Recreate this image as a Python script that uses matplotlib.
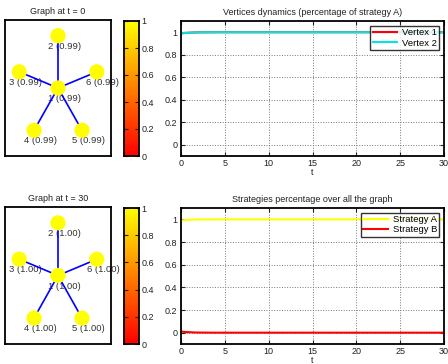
import numpy as np
import matplotlib
matplotlib.use("Agg")
import matplotlib.pyplot as plt

plt.rcParams['font.family'] = ['Liberation Sans', 'DejaVu Sans']

# ---- data ----
node_ids = [1, 2, 3, 4, 5, 6]
node_x = [0.0, 0.0, -0.951, -0.588, 0.588, 0.951]
node_y = [0.0, 1.0, 0.309, -0.809, -0.809, 0.309]
edges = [(1, 2), (1, 3), (1, 4), (1, 5), (1, 6)]
values_t0 = [0.99, 0.99, 0.99, 0.99, 0.99, 0.99]
values_t30 = [1.00, 1.00, 1.00, 1.00, 1.00, 1.00]

t = [0, 0.5, 1, 1.5, 2, 3, 4, 5, 10, 15, 20, 25, 30]
vertex1 = [0.99, 0.994, 0.996, 0.998, 0.999, 0.9995, 1.0, 1.0, 1.0, 1.0, 1.0, 1.0, 1.0]
vertex2 = [0.99, 0.994, 0.996, 0.998, 0.999, 0.9995, 1.0, 1.0, 1.0, 1.0, 1.0, 1.0, 1.0]
strategyA = [0.99, 0.994, 0.996, 0.998, 0.999, 0.9995, 1.0, 1.0, 1.0, 1.0, 1.0, 1.0, 1.0]
strategyB = [0.01, 0.006, 0.004, 0.002, 0.001, 0.0005, 0.0, 0.0, 0.0, 0.0, 0.0, 0.0, 0.0]

cbar_ticks = [0, 0.2, 0.4, 0.6, 0.8, 1]
x_ticks = [0, 5, 10, 15, 20, 25, 30]
y_ticks = [0, 0.2, 0.4, 0.6, 0.8, 1]

W, H = 448, 364
fig = plt.figure(figsize=(W / 100, H / 100), dpi=100)
cmap = plt.get_cmap('autumn')
FS = 6.5


def rect(x0, y0, x1, y1):
    return [x0 / W, (H - y1) / H, (x1 - x0) / W, (y1 - y0) / H]


def draw_graph(ax, values, title):
    ax.set_xlim(-1.3, 1.3)
    ax.set_ylim(-1.3, 1.3)
    ax.set_xticks([])
    ax.set_yticks([])
    for s in ax.spines.values():
        s.set_linewidth(1.3)
    for a, b in edges:
        ax.plot([node_x[a - 1], node_x[b - 1]], [node_y[a - 1], node_y[b - 1]],
                color='#0000ff', lw=1.2, zorder=2)
    ax.scatter(node_x, node_y, s=120, c=values, cmap=cmap, vmin=0, vmax=1,
               zorder=3, edgecolors='none')
    for i, v, x, y in zip(node_ids, values, node_x, node_y):
        ax.text(x + 0.15, y - 0.2, f"{i} ({v:.2f})", ha='center', va='center',
                fontsize=FS + 0.3, color='#333333', zorder=1)
    ax.set_title(title, fontsize=FS, pad=4, color='#222222')


def draw_cbar(ax):
    grad = np.linspace(0, 1, 256).reshape(-1, 1)
    ax.imshow(grad, aspect='auto', cmap=cmap, origin='lower', extent=[0, 1, 0, 1])
    ax.set_xticks([])
    ax.yaxis.tick_right()
    ax.set_yticks(cbar_ticks)
    ax.set_yticklabels([f"{v:g}" for v in cbar_ticks])
    ax.tick_params(axis='y', direction='in', length=3, labelsize=FS, pad=2,
                   left=True, right=True, colors='#222222')
    for s in ax.spines.values():
        s.set_linewidth(1.3)


def draw_lines(ax, series, title):
    for y, c, lab in series:
        ax.plot(t, y, color=c, lw=1.5, label=lab)
    ax.set_xlim(0, 30)
    ax.set_ylim(-0.1, 1.1)
    ax.set_xticks(x_ticks)
    ax.set_yticks(y_ticks)
    ax.set_yticklabels([f"{v:g}" for v in y_ticks])
    ax.grid(True, linestyle=':', color='#777777', lw=0.7)
    ax.tick_params(direction='in', length=3, labelsize=FS, top=True, right=True,
                   colors='#222222', pad=2.5)
    for s in ax.spines.values():
        s.set_linewidth(1.3)
    ax.set_xlabel('t', fontsize=FS, labelpad=0, color='#222222')
    ax.set_title(title, fontsize=FS, pad=4, color='#222222')
    leg = ax.legend(loc='upper right', fontsize=FS + 0.3, frameon=True, fancybox=False,
                    borderaxespad=0.5, handlelength=2.6, handletextpad=0.5,
                    borderpad=0.25, labelspacing=0.15)
    leg.get_frame().set_edgecolor('black')
    leg.get_frame().set_linewidth(1.0)


g1 = fig.add_axes(rect(5, 20, 111, 156))
draw_graph(g1, values_t0, 'Graph at t = 0')
c1 = fig.add_axes(rect(124, 21, 139, 156))
draw_cbar(c1)
a1 = fig.add_axes(rect(181, 21, 444, 156))
draw_lines(a1, [(vertex1, '#ff0000', 'Vertex 1'), (vertex2, '#00e5e5', 'Vertex 2')],
           'Vertices dynamics (percentage of strategy A)')

g2 = fig.add_axes(rect(5, 207, 111, 344))
draw_graph(g2, values_t30, 'Graph at t = 30')
c2 = fig.add_axes(rect(124, 208, 139, 344))
draw_cbar(c2)
a2 = fig.add_axes(rect(181, 208, 444, 344))
draw_lines(a2, [(strategyA, '#ffff00', 'Strategy A'), (strategyB, '#ff0000', 'Strategy B')],
           'Strategies percentage over all the graph')

fig.savefig('out.png', dpi=100)
